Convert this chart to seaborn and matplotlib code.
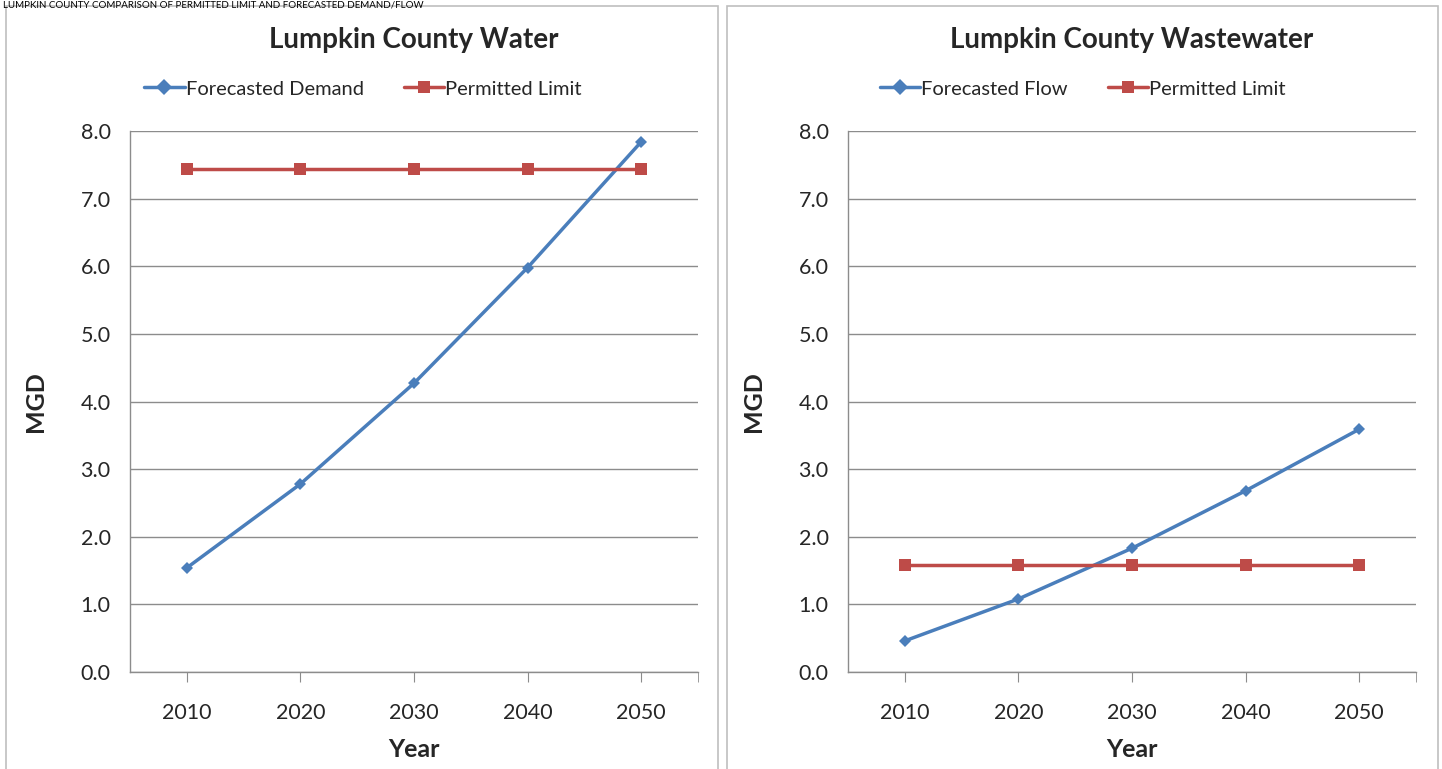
import pandas as pd
import matplotlib.pyplot as plt
import seaborn as sns
from matplotlib.patches import Rectangle

years = ['2010', '2020', '2030', '2040', '2050']
water_demand = [1.54, 2.78, 4.27, 5.98, 7.84]
water_limit = [7.44, 7.44, 7.44, 7.44, 7.44]
waste_flow = [0.46, 1.08, 1.83, 2.68, 3.59]
waste_limit = [1.58, 1.58, 1.58, 1.58, 1.58]
y_ticks = [0, 1, 2, 3, 4, 5, 6, 7, 8]

sns.set_style('white')
plt.rcParams['font.family'] = ['Lato', 'DejaVu Sans']

blue = '#4A7EBB'
red = '#BE4B48'
gray = '#8C8C8C'

fig = plt.figure(figsize=(14.42, 7.69), dpi=100)

# panel frames
fig.patches.append(Rectangle((6 / 1442, -0.01), 712 / 1442, 1 - 6 / 769 + 0.01, transform=fig.transFigure,
                             fill=False, edgecolor='#BFBFBF', lw=1.2))
fig.patches.append(Rectangle((727 / 1442, -0.01), 711 / 1442, 1 - 6 / 769 + 0.01, transform=fig.transFigure,
                             fill=False, edgecolor='#BFBFBF', lw=1.2))

fig.text(0.002, 0.999, 'LUMPKIN COUNTY COMPARISON OF PERMITTED LIMIT AND FORECASTED DEMAND/FLOW',
         ha='left', va='top', fontsize=7, color='black')

panels = [
    (130, 'Lumpkin County Water', 'Forecasted Demand', water_demand, water_limit, 363),
    (848, 'Lumpkin County Wastewater', 'Forecasted Flow', waste_flow, waste_limit, 1083),
]

for left_px, title, name, forecast, limit, cx in panels:
    ax = fig.add_axes([left_px / 1442, 1 - 672 / 769, 568 / 1442, 541 / 769])
    df = pd.DataFrame({'Year': years * 2,
                       'MGD': forecast + limit,
                       'Series': [name] * 5 + ['Permitted Limit'] * 5})
    sns.lineplot(data=df, x='Year', y='MGD', hue='Series', style='Series',
                 palette=[blue, red], markers=['D', 's'], dashes=False,
                 markersize=8, markeredgewidth=0, linewidth=2.5, ax=ax)
    # smaller diamond for forecast line
    ax.lines[0].set_markersize(6)
    ax.set_xlim(-0.5, 4.5)
    ax.set_ylim(0, 8)
    ax.set_yticks(y_ticks)
    ax.set_yticklabels([f'{v:.1f}' for v in y_ticks])
    ax.set_xticks(range(5))
    ax.set_xticklabels(years)
    ax.set_xticks([4.5], minor=True)
    ax.yaxis.grid(True, color=gray, lw=1)
    ax.set_axisbelow(True)
    for s in ['top', 'right']:
        ax.spines[s].set_visible(False)
    for s in ['left', 'bottom']:
        ax.spines[s].set_color(gray)
        ax.spines[s].set_linewidth(1)
    ax.tick_params(axis='x', which='both', direction='out', length=7, color=gray,
                   bottom=True, labelsize=15.5, pad=15)
    ax.tick_params(axis='y', length=0, labelsize=15.5, pad=14)
    ax.set_xlabel('Year', fontsize=18, fontweight='bold', labelpad=11)
    ax.set_ylabel('MGD', fontsize=18, fontweight='bold', labelpad=24)
    ax.set_title(title, fontsize=20, fontweight='bold', pad=60)
    ax.legend(loc='center', bbox_to_anchor=((cx - left_px) / 568, 1 + (131 - 89) / 541),
              ncol=2, frameon=False, fontsize=14.5, handlelength=2.0, handletextpad=0.05,
              columnspacing=2.0, title=None)

fig.savefig('out.png', dpi=100)
